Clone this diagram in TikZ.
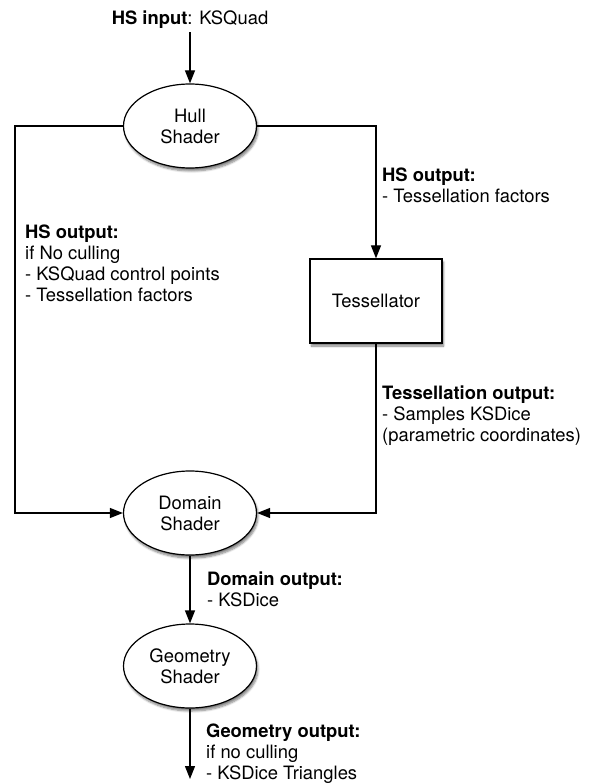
\documentclass[tikz,border=0pt]{standalone}
\usepackage{fontspec}
\setmainfont{TeX Gyre Heros}
\usetikzlibrary{shapes.geometric,arrows.meta,shadows.blur}

\tikzset{
	shader/.style={ellipse,draw,fill=white,line width=1.2pt,minimum width=133pt,minimum height=84pt,inner sep=0pt,align=center,blur shadow={shadow xshift=1.5pt,shadow yshift=-3pt,shadow blur steps=6,shadow opacity=50}},
	stagebox/.style={rectangle,draw,fill=white,line width=1.2pt,minimum width=132pt,minimum height=84pt,inner sep=0pt,blur shadow={shadow xshift=1.5pt,shadow yshift=-3pt,shadow blur steps=6,shadow opacity=50}},
	note/.style={align=left,anchor=north west,inner sep=0pt},
	flow/.style={line width=1.2pt,-{Triangle[length=13pt,width=10pt]}},
}

\begin{document}
\begin{tikzpicture}[x=1pt,y=-1pt,font=\fontsize{18.4}{21}\selectfont]

\def\MIDX{190}
\def\RIGHTX{376}
\def\LEFTX{15}
	\useasboundingbox (0,0) rectangle (592,783);

	% stages
	\node (hsin) at (\MIDX,20) {\textbf{HS input}: KSQuad};
	\node[shader] (hull) at (\MIDX,126) {Hull\\Shader};
	\node[stagebox] (tess) at (\RIGHTX,301) {Tessellator};
	\node[shader] (domain) at (\MIDX,513) {Domain\\Shader};
	\node[shader] (geom) at (\MIDX,666) {Geometry\\Shader};
	\coordinate (gsout) at (\MIDX,779);

	% labels
	\node[note] (hsleft) at (25,225) {\textbf{HS output:}\\if No culling\\- KSQuad control points\\- Tessellation factors};
	\node[note] (hsright) at (382,168) {\textbf{HS output:}\\- Tessellation factors};
	\node[note] (tessout) at (382,386) {\textbf{Tessellation output:}\\- Samples KSDice\\(parametric coordinates)};
	\node[note] (dsout) at (207,572) {\textbf{Domain output:}\\- KSDice};
	\node[note] (gsnote) at (206,724) {\textbf{Geometry output:}\\if no culling\\- KSDice Triangles};

	% connectors
	\draw[flow] (hsin) -- (hull);
	\draw[flow] (hull.west) -- (\LEFTX,126) -- (\LEFTX,513) -- (domain.west);
	\draw[flow] (hull.east) -- (\RIGHTX,126) -- (tess.north);
	\draw[flow] (tess.south) -- (\RIGHTX,513) -- (domain.east);
	\draw[flow] (domain) -- (geom);
	\draw[flow] (geom) -- (gsout);

\end{tikzpicture}
\end{document}
